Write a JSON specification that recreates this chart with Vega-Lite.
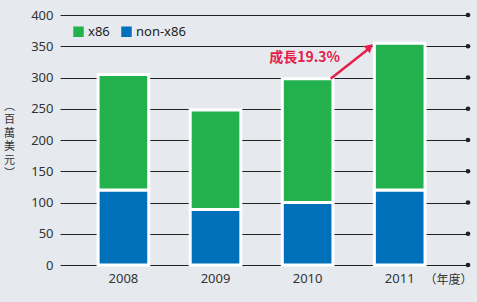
{
  "$schema": "https://vega.github.io/schema/vega-lite/v6.json",
  "autosize": "none",
  "width": 408,
  "height": 250,
  "padding": {"left": 60, "top": 15, "right": 9, "bottom": 37},
  "background": "#e6eaee",
  "config": {
    "view": {"stroke": null},
    "font": "Noto Sans",
    "axis": {"labelFont": "Noto Sans", "labelColor": "#333333", "titleColor": "#333333", "titleFont": "Noto Sans CJK TC", "titleFontWeight": "normal", "labelOverlap": false},
    "axisY": {
      "titleAngle": 0, "titleX": -51, "titleY": 91, "titleAlign": "center", "titleBaseline": "middle",
      "titleFontSize": 11, "titleLineHeight": 13.5,
      "labelFontSize": 13, "labelPadding": 7, "ticks": false, "domain": false,
      "grid": true, "gridColor": "#222222", "gridWidth": 1.2, "gridOpacity": 1, "tickCount": 9
    },
    "axisX": {
      "labelAngle": 0, "labelFontSize": 13, "labelPadding": 7,
      "ticks": false, "domain": false, "grid": false,
      "titleX": 412, "titleY": 14, "titleAlign": "right", "titleBaseline": "middle", "titleFontSize": 12
    }
  },
  "datasets": {
    "sales": [
      {"year": "2008", "series": "non-x86", "value": 120},
      {"year": "2008", "series": "x86", "value": 185},
      {"year": "2009", "series": "non-x86", "value": 89},
      {"year": "2009", "series": "x86", "value": 159},
      {"year": "2010", "series": "non-x86", "value": 100},
      {"year": "2010", "series": "x86", "value": 198},
      {"year": "2011", "series": "non-x86", "value": 120},
      {"year": "2011", "series": "x86", "value": 235}
    ],
    "ticks": [
      {"tick": 0}, {"tick": 50}, {"tick": 100}, {"tick": 150}, {"tick": 200},
      {"tick": 250}, {"tick": 300}, {"tick": 350}, {"tick": 400}
    ],
    "growth": [
      {"year": "2010", "year2": "2011", "start": 298, "end": 346, "head": 349, "label": "成長19.3%", "labelValue": 331}
    ]
  },
  "layer": [
    {
      "data": {"name": "sales"},
      "mark": {"type": "bar", "stroke": "white", "strokeWidth": 3},
      "encoding": {
        "x": {
          "field": "year", "type": "nominal", "sort": ["2008", "2009", "2010", "2011"],
          "scale": {"paddingInner": 0.45, "paddingOuter": 0.44, "align": 0.47},
          "axis": {"title": "（年度）"}
        },
        "y": {
          "field": "value", "type": "quantitative", "stack": "zero",
          "scale": {"domain": [0, 400], "nice": false},
          "axis": {"title": ["︵", "百", "萬", "美", "元", "︶"], "values": [0, 50, 100, 150, 200, 250, 300, 350, 400], "tickCount": 9}
        },
        "color": {
          "field": "series", "type": "nominal",
          "scale": {"domain": ["x86", "non-x86"], "range": ["#22b14c", "#0070bb"]},
          "legend": {
            "title": null, "orient": "none", "legendX": 12, "legendY": 10, "direction": "horizontal",
            "symbolType": "square", "symbolSize": 110, "symbolStrokeWidth": 0, "symbolOpacity": 1,
            "labelFontSize": 13, "labelColor": "#222222", "labelFont": "Noto Sans", "columnPadding": 10, "labelOffset": 3
          }
        },
        "order": {"field": "series", "sort": "ascending"}
      }
    },
    {
      "data": {"name": "ticks"},
      "mark": {"type": "point", "filled": true, "color": "#222222", "opacity": 1, "size": 22},
      "encoding": {
        "x": {"value": "width"},
        "y": {"field": "tick", "type": "quantitative", "axis": {"title": ["︵", "百", "萬", "美", "元", "︶"], "values": [0, 50, 100, 150, 200, 250, 300, 350, 400], "tickCount": 9}}
      }
    },
    {
      "data": {"name": "growth"},
      "mark": {"type": "rule", "color": "#e5214b", "strokeWidth": 2.5, "xOffset": 23, "x2Offset": -31},
      "encoding": {
        "x": {"field": "year", "type": "nominal", "axis": {"title": "（年度）"}},
        "x2": {"field": "year2"},
        "y": {"field": "start", "type": "quantitative", "axis": {"title": ["︵", "百", "萬", "美", "元", "︶"], "values": [0, 50, 100, 150, 200, 250, 300, 350, 400], "tickCount": 9}},
        "y2": {"field": "end"}
      }
    },
    {
      "data": {"name": "growth"},
      "mark": {"type": "point", "shape": "triangle-up", "filled": true, "color": "#e5214b", "opacity": 1, "size": 90, "angle": 48, "xOffset": -30},
      "encoding": {
        "x": {"field": "year2", "type": "nominal", "axis": {"title": "（年度）"}},
        "y": {"field": "head", "type": "quantitative", "axis": {"title": ["︵", "百", "萬", "美", "元", "︶"], "values": [0, 50, 100, 150, 200, 250, 300, 350, 400], "tickCount": 9}}
      }
    },
    {
      "data": {"name": "growth"},
      "mark": {"type": "text", "color": "#e5214b", "font": "Noto Sans CJK TC", "fontWeight": "bold", "fontSize": 14, "align": "center", "baseline": "middle", "dx": -3},
      "encoding": {
        "x": {"field": "year", "type": "nominal", "axis": {"title": "（年度）"}},
        "y": {"field": "labelValue", "type": "quantitative", "axis": {"title": ["︵", "百", "萬", "美", "元", "︶"], "values": [0, 50, 100, 150, 200, 250, 300, 350, 400], "tickCount": 9}},
        "text": {"field": "label"}
      }
    }
  ]
}
